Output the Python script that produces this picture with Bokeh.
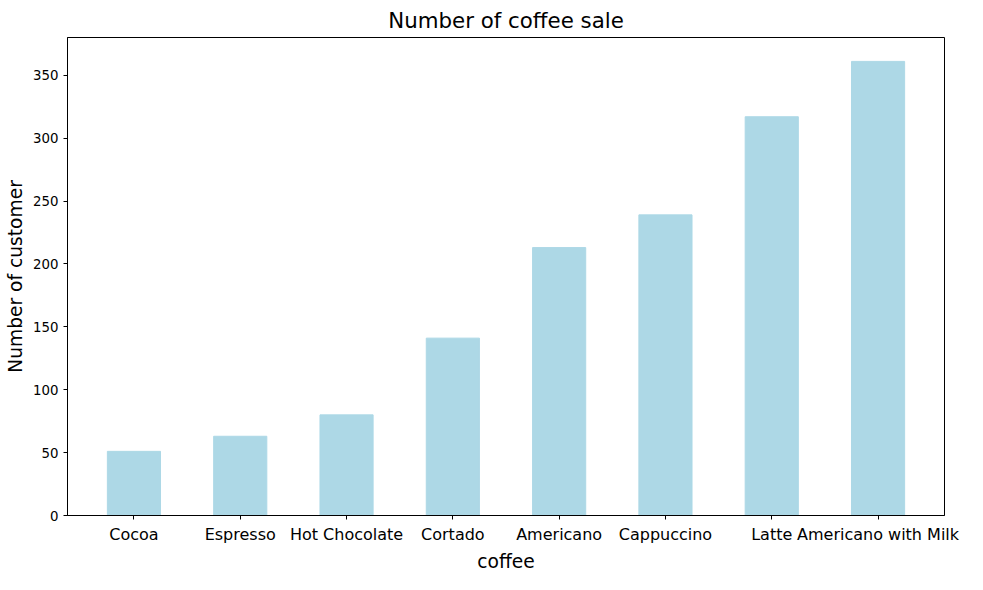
from bokeh.plotting import figure
from bokeh.models import Range1d, FixedTicker
from bokeh.embed import file_html
from bokeh.resources import INLINE

coffee = ["Cocoa", "Espresso", "Hot Chocolate", "Cortado", "Americano",
          "Cappuccino", "Latte", "Americano with Milk"]
customers = [51, 63, 80, 141, 213, 239, 317, 361]

xs = list(range(len(coffee)))

p = figure(width=967, height=574, output_backend="svg", toolbar_location=None,
           title="Number of coffee sale",
           x_range=Range1d(-0.625, len(coffee) - 0.375), y_range=Range1d(0, 380),
           min_border_left=67, min_border_right=23, min_border_top=23, min_border_bottom=40)
p.vbar(x=xs, top=customers, width=0.5, color="lightblue")

p.title.align = "center"
p.title.text_font = "DejaVu Sans"
p.title.text_font_size = "16pt"
p.title.text_font_style = "normal"
p.title.text_color = "black"
p.grid.visible = False
p.outline_line_color = "black"

p.xaxis.ticker = FixedTicker(ticks=xs)
p.xaxis.major_label_overrides = {i: c for i, c in enumerate(coffee)}
p.xaxis.major_label_text_font_size = "12pt"
p.xaxis.axis_label = "coffee"
p.yaxis.axis_label = "Number of customer"
p.yaxis.ticker = FixedTicker(ticks=[0, 50, 100, 150, 200, 250, 300, 350])
p.yaxis.major_label_text_font_size = "10pt"
for ax in (p.xaxis[0], p.yaxis[0]):
    ax.axis_label_text_font = "DejaVu Sans"
    ax.axis_label_text_font_size = "14pt"
    ax.axis_label_text_font_style = "normal"
    ax.axis_label_standoff = 4
    ax.major_label_text_font = "DejaVu Sans"
    ax.minor_tick_line_color = None
    ax.major_tick_in = 0
    ax.major_tick_out = 4
    ax.axis_line_color = "black"
    ax.major_label_text_color = "black"
    ax.axis_label_text_color = "black"

open("out.html", "w").write(file_html(p, INLINE))
